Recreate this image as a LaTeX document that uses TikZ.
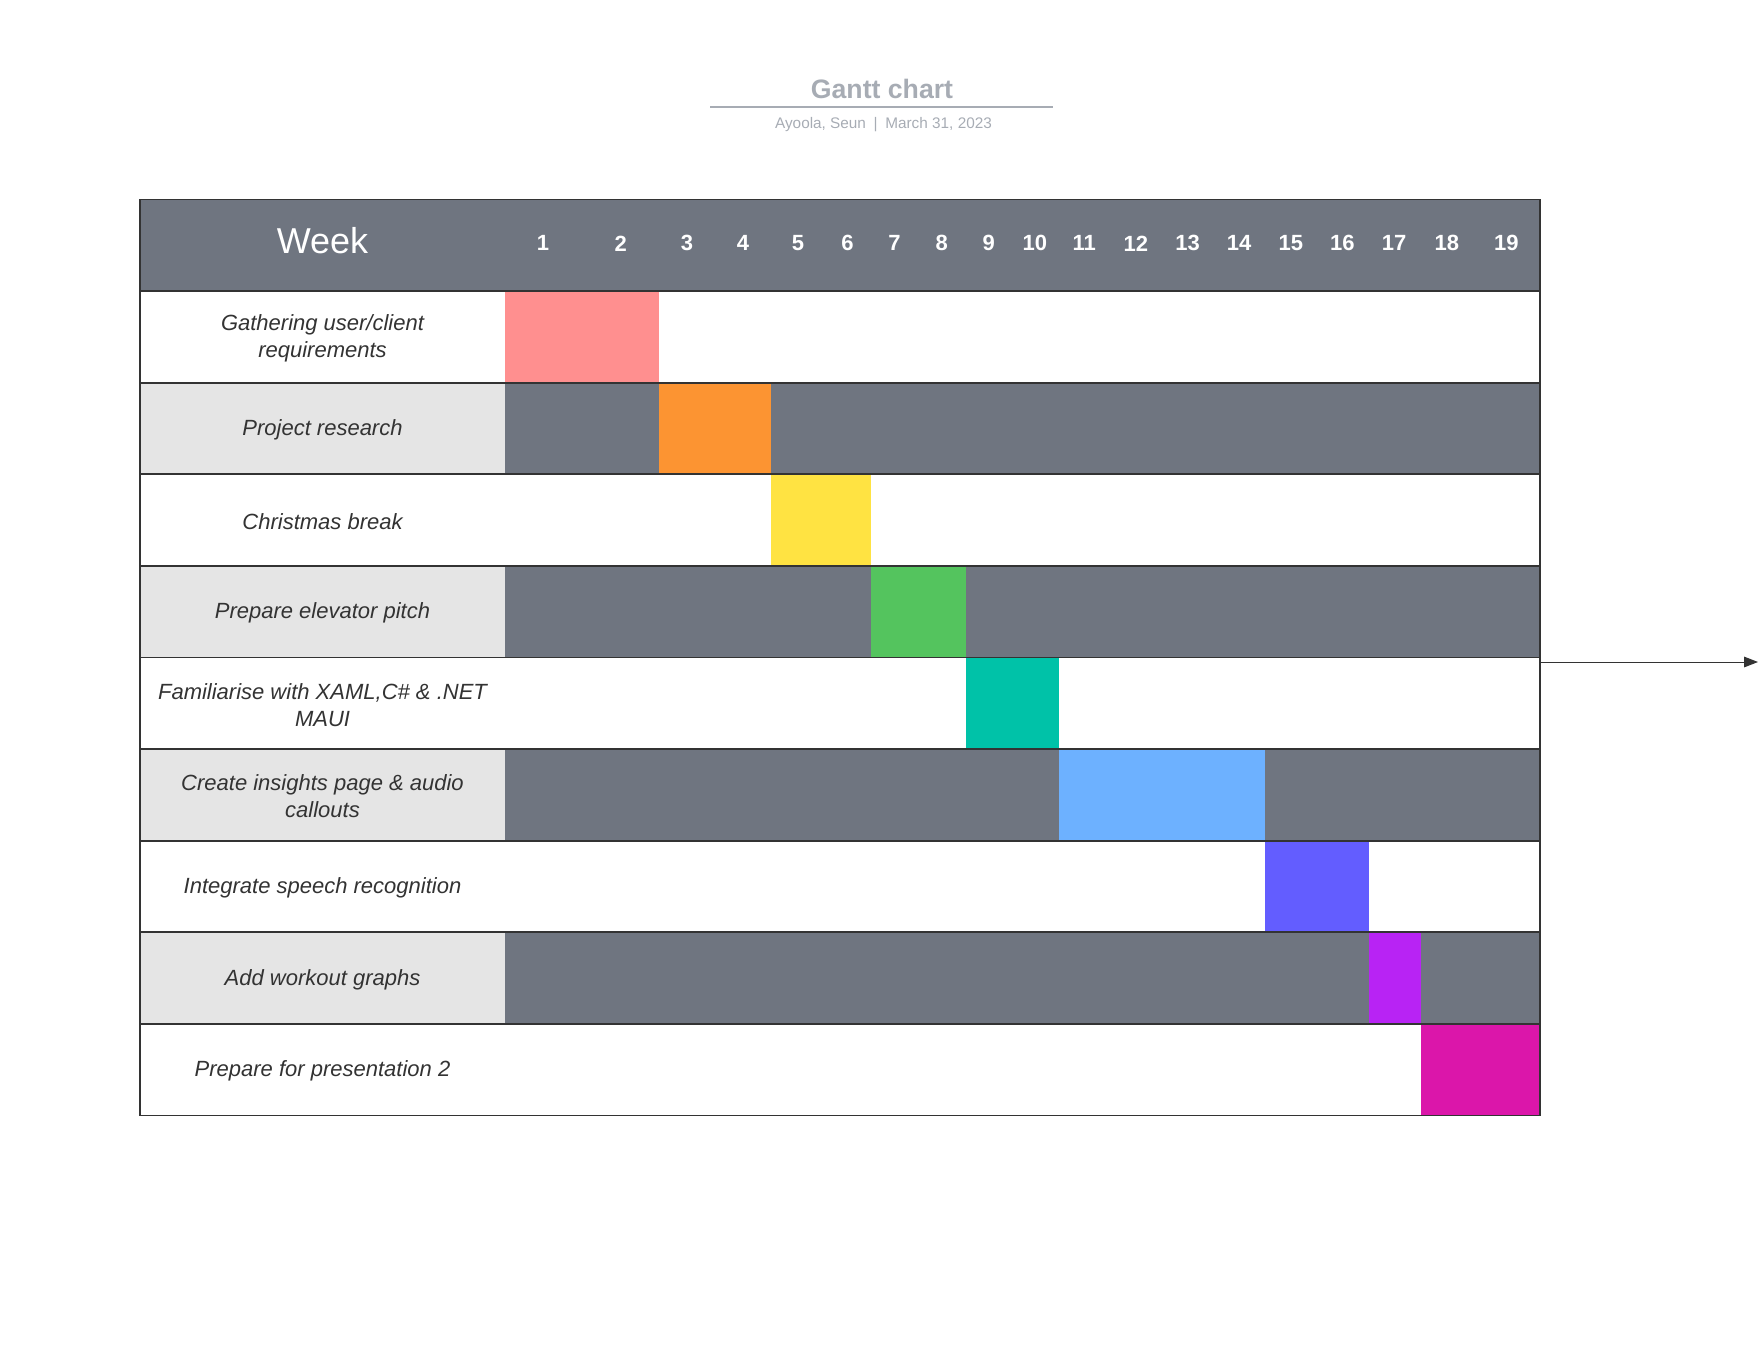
\documentclass[tikz,border=0pt]{standalone}
\usepackage{fontspec}
\setmainfont{Liberation Sans}
\usepackage{xcolor}
\usetikzlibrary{arrows.meta,positioning,calc}
\definecolor{headgray}{HTML}{6F7580}
\definecolor{labelgray}{HTML}{E5E5E5}
\definecolor{titlegray}{HTML}{A7ACB4}
\definecolor{inkgray}{HTML}{333333}
\definecolor{barpink}{HTML}{FF8F8F}
\definecolor{barorange}{HTML}{FC9432}
\definecolor{baryellow}{HTML}{FFE342}
\definecolor{bargreen}{HTML}{54C45E}
\definecolor{barteal}{HTML}{00C2A8}
\definecolor{barsky}{HTML}{6DB1FF}
\definecolor{barblue}{HTML}{635DFF}
\definecolor{barviolet}{HTML}{B823F4}
\definecolor{barmagenta}{HTML}{DB16AA}

\begin{document}
\begin{tikzpicture}[x=0.75pt, y=-0.75pt, every node/.style={inner sep=0pt, outer sep=0pt},
    gridline/.style={draw=inkgray, line width=1.4pt},
    weekhead/.style={text=white, font=\fontsize{27}{30}\selectfont},
    weeknum/.style={text=white, font=\fontsize{16.5}{18}\selectfont\bfseries},
    tasklabel/.style={text=inkgray, align=center, font=\fontsize{16.5}{20.2}\selectfont\itshape}]
  \useasboundingbox (0,0) rectangle (1760,1360);
  % title block
  \node[text=titlegray, font=\fontsize{20}{24}\selectfont\bfseries] (title) at (882,88.7) {Gantt chart};
  \draw[titlegray, line width=1.5pt] (710,106.7) -- (1053,106.7);
  \node[text=titlegray, font=\fontsize{11.5}{13}\selectfont] (subtitle) at (883.5,124.5) {Ayoola, Seun\enspace|\enspace March 31, 2023};
  % header
  \fill[headgray] (140,199.5) rectangle (1540,291.1);
  \node[weekhead] (week) at (322.5,241) {Week};
  \foreach \n/\x in {1/543,2/620.7,3/686.9,4/743,5/798,6/847.4,7/894.6,8/941.7,9/988.8,10/1034.9,
      11/1084.3,12/1135.9,13/1187.5,14/1239.1,15/1290.8,16/1342.4,17/1394,18/1446.8,19/1506.3}
    {\node[weeknum] (w\n) at (\x,243.4) {\n};}
  % rows: number / task / label fill / track fill / bar colour / start / end
  \foreach \i/\task/\lfill/\tfill/\col/\xa/\xb in {
      1/{Gathering user/client\\requirements}/white/white/barpink/505/659,
      2/{Project research}/labelgray/headgray/barorange/659/771,
      3/{Christmas break}/white/white/baryellow/771/871,
      4/{Prepare elevator pitch}/labelgray/headgray/bargreen/871/966,
      5/{Familiarise with XAML,C\# \& .NET\\MAUI}/white/white/barteal/966/1059,
      6/{Create insights page \& audio\\callouts}/labelgray/headgray/barsky/1059/1265,
      7/{Integrate speech recognition}/white/white/barblue/1265/1369,
      8/{Add workout graphs}/labelgray/headgray/barviolet/1369/1421,
      9/{Prepare for presentation 2}/white/white/barmagenta/1421/1540}
  {
    \pgfmathsetmacro\ya{199.5+\i*91.6}
    \pgfmathsetmacro\yb{\ya+91.6}
    \fill[\lfill] (140,\ya) rectangle (505,\yb);
    \fill[\tfill] (505,\ya) rectangle (1540,\yb);
    \fill[\col] (\xa,\ya) rectangle (\xb,\yb);
    \node[tasklabel] (task\i) at (322.5,\ya+47.3) {\task};
  }
  % grid lines
  \foreach \i in {1,...,9}
    {\draw[gridline] (140,199.5+\i*91.6) -- (1540,199.5+\i*91.6);}
  \draw[gridline] (140,199.5) rectangle (1540,1115.5);
  % arrow off the right edge
  \coordinate (tail) at (1540,662);
  \coordinate (head) at (1758,662);
  \draw[inkgray, line width=0.75pt, -{Triangle[length=10.5pt, width=8pt]}] (tail) -- (head);
\end{tikzpicture}
\end{document}
